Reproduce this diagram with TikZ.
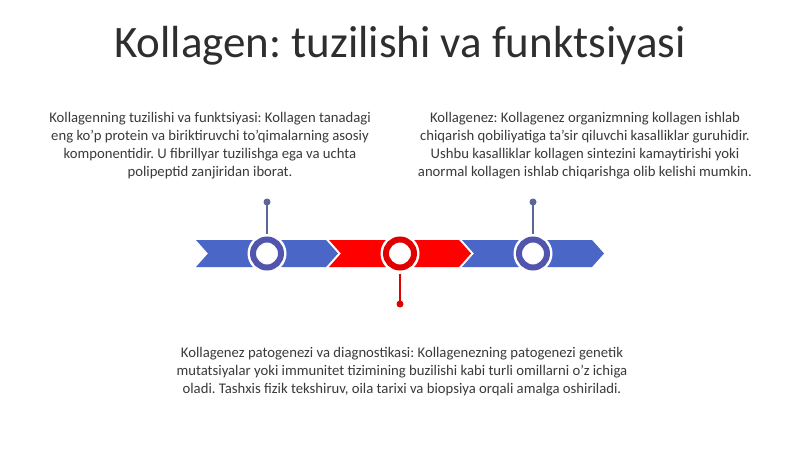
\documentclass[tikz,border=0pt]{standalone}
\usepackage{fontspec}
\setmainfont{Carlito}
\frenchspacing
\definecolor{bandblue}{HTML}{4A66C6}
\definecolor{ringblue}{HTML}{5155AE}
\definecolor{stemblue}{HTML}{5C6698}
\definecolor{bandred}{HTML}{FF0000}
\definecolor{ringred}{HTML}{E00000}
\definecolor{txt}{HTML}{3A3A3A}
\begin{document}
\begin{tikzpicture}[x=1pt,y=-1pt,
  body/.style={align=center,text=txt,font=\fontsize{14.7}{18}\selectfont,inner sep=0pt},
  ringw/.style={circle,fill=white,minimum size=39pt,inner sep=0pt},
  ringc/.style={circle,draw=#1,line width=6pt,fill=white,minimum size=28pt,inner sep=0pt},
  dotc/.style={circle,fill=#1,minimum size=7pt,inner sep=0pt}]
\useasboundingbox (0,0) rectangle (800,449);
\fill[white] (0,0) rectangle (800,449);
\node[text=txt!80!black,font=\fontsize{45}{52}\selectfont,inner sep=0pt] (title) at (400,46) {Kollagen: tuzilishi va funktsiyasi};
% chevrons
\fill[bandblue] (196,240) -- (326,240) -- (338,253.5) -- (326,267) -- (196,267) -- (208,253.5) -- cycle;
\fill[bandred] (329,240) -- (459,240) -- (471,253.5) -- (459,267) -- (329,267) -- (341,253.5) -- cycle;
\fill[bandblue] (462,240) -- (592,240) -- (604,253.5) -- (592,267) -- (462,267) -- (474,253.5) -- cycle;
% rings
\node[ringw] (w1) at (267,253.5) {};
\node[ringw] (w2) at (400,253.5) {};
\node[ringw] (w3) at (533,253.5) {};
\node[ringc=ringblue] (c1) at (267,253.5) {};
\node[ringc=ringred] (c2) at (400,253.5) {};
\node[ringc=ringblue] (c3) at (533,253.5) {};
% stems
\node[dotc=stemblue] (d1) at (267,202) {};
\node[dotc=ringred] (d2) at (400,304) {};
\node[dotc=stemblue] (d3) at (533,202) {};
\draw[stemblue,line width=1.5pt] (c1.north) ++(0,-3) -- (d1.center);
\draw[stemblue,line width=1.5pt] (c3.north) ++(0,-3) -- (d3.center);
\draw[ringred,line width=1.5pt] (c2.south) ++(0,3) -- (d2.center);
% texts
\node[body] (t1) at (210,146) {Kollagenning tuzilishi va funktsiyasi: Kollagen tanadagi\\eng ko'p protein va biriktiruvchi to'qimalarning asosiy\\komponentidir. U fibrillyar tuzilishga ega va uchta\\polipeptid zanjiridan iborat.};
\node[body] (t2) at (585,146) {Kollagenez: Kollagenez organizmning kollagen ishlab\\chiqarish qobiliyatiga ta'sir qiluvchi kasalliklar guruhidir.\\Ushbu kasalliklar kollagen sintezini kamaytirishi yoki\\anormal kollagen ishlab chiqarishga olib kelishi mumkin.};
\node[body] (t3) at (402,372) {Kollagenez patogenezi va diagnostikasi: Kollagenezning patogenezi genetik\\mutatsiyalar yoki immunitet tizimining buzilishi kabi turli omillarni o'z ichiga\\oladi. Tashxis fizik tekshiruv, oila tarixi va biopsiya orqali amalga oshiriladi.};
\end{tikzpicture}
\end{document}
